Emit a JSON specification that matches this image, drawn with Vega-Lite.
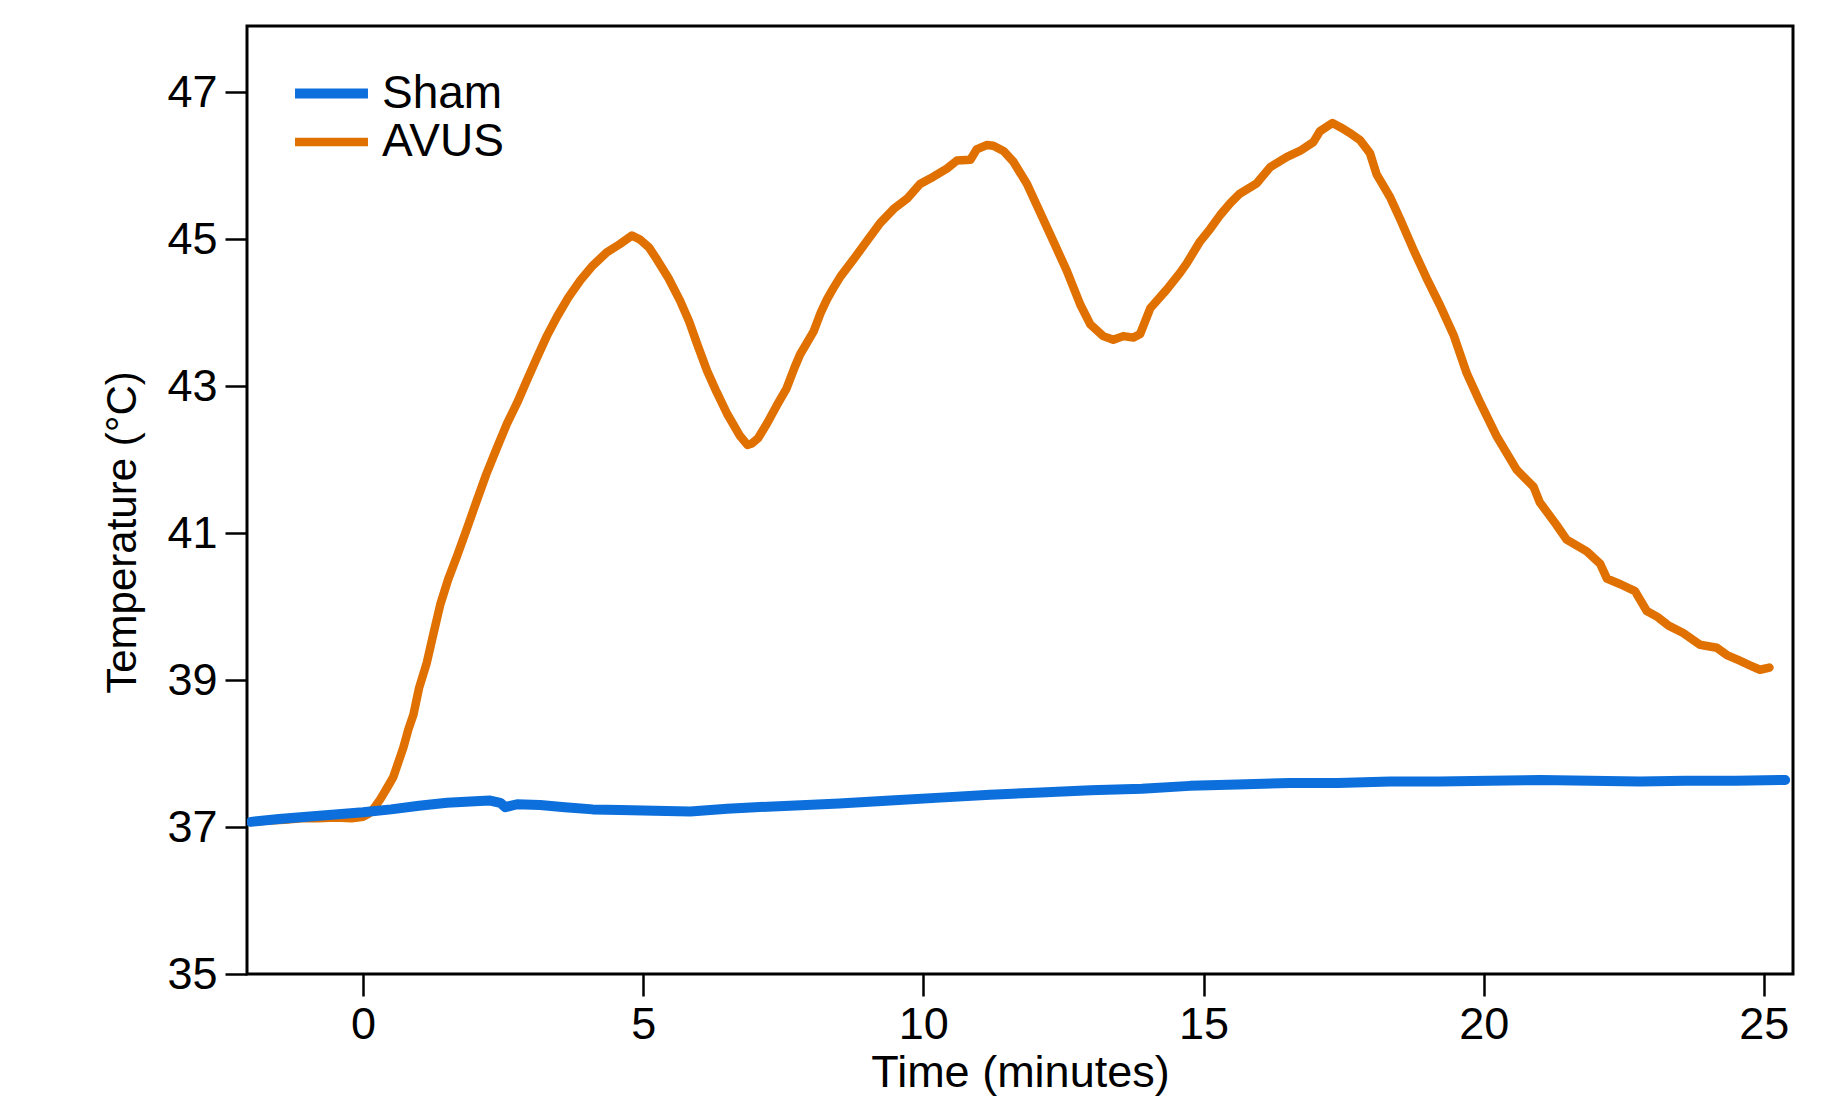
{
  "$schema": "https://vega.github.io/schema/vega-lite/v6.json",
  "width": 1546,
  "height": 948,
  "autosize": {"type": "none"},
  "padding": {"left": 247, "top": 26, "right": 42, "bottom": 126},
  "background": "white",
  "config": {
    "view": {"stroke": "black", "strokeWidth": 3},
    "font": "Liberation Sans",
    "axis": {
      "domain": false,
      "grid": false,
      "tickColor": "black",
      "tickWidth": 2.5,
      "tickSize": 22,
      "labelFont": "Liberation Sans",
      "labelFontSize": 45,
      "labelColor": "black",
      "titleFont": "Liberation Sans",
      "titleFontWeight": "normal",
      "titleColor": "black"
    }
  },
  "datasets": {
    "temps": [
      {"t": -2.0, "T": 37.07, "series": "AVUS"},
      {"t": -1.7, "T": 37.09, "series": "AVUS"},
      {"t": -1.4, "T": 37.1, "series": "AVUS"},
      {"t": -1.1, "T": 37.12, "series": "AVUS"},
      {"t": -0.8, "T": 37.12, "series": "AVUS"},
      {"t": -0.5, "T": 37.13, "series": "AVUS"},
      {"t": -0.2, "T": 37.12, "series": "AVUS"},
      {"t": 0.0, "T": 37.14, "series": "AVUS"},
      {"t": 0.1, "T": 37.18, "series": "AVUS"},
      {"t": 0.2, "T": 37.26, "series": "AVUS"},
      {"t": 0.31, "T": 37.38, "series": "AVUS"},
      {"t": 0.42, "T": 37.52, "series": "AVUS"},
      {"t": 0.54, "T": 37.68, "series": "AVUS"},
      {"t": 0.63, "T": 37.88, "series": "AVUS"},
      {"t": 0.72, "T": 38.08, "series": "AVUS"},
      {"t": 0.81, "T": 38.33, "series": "AVUS"},
      {"t": 0.9, "T": 38.53, "series": "AVUS"},
      {"t": 1.0, "T": 38.89, "series": "AVUS"},
      {"t": 1.14, "T": 39.24, "series": "AVUS"},
      {"t": 1.26, "T": 39.64, "series": "AVUS"},
      {"t": 1.38, "T": 40.03, "series": "AVUS"},
      {"t": 1.52, "T": 40.37, "series": "AVUS"},
      {"t": 1.68, "T": 40.69, "series": "AVUS"},
      {"t": 1.85, "T": 41.05, "series": "AVUS"},
      {"t": 2.03, "T": 41.44, "series": "AVUS"},
      {"t": 2.2, "T": 41.8, "series": "AVUS"},
      {"t": 2.39, "T": 42.16, "series": "AVUS"},
      {"t": 2.57, "T": 42.49, "series": "AVUS"},
      {"t": 2.75, "T": 42.77, "series": "AVUS"},
      {"t": 2.92, "T": 43.07, "series": "AVUS"},
      {"t": 3.1, "T": 43.38, "series": "AVUS"},
      {"t": 3.28, "T": 43.68, "series": "AVUS"},
      {"t": 3.46, "T": 43.94, "series": "AVUS"},
      {"t": 3.66, "T": 44.2, "series": "AVUS"},
      {"t": 3.88, "T": 44.44, "series": "AVUS"},
      {"t": 4.1, "T": 44.64, "series": "AVUS"},
      {"t": 4.35, "T": 44.82, "series": "AVUS"},
      {"t": 4.58, "T": 44.93, "series": "AVUS"},
      {"t": 4.8, "T": 45.05, "series": "AVUS"},
      {"t": 4.95, "T": 44.99, "series": "AVUS"},
      {"t": 5.1, "T": 44.89, "series": "AVUS"},
      {"t": 5.24, "T": 44.73, "series": "AVUS"},
      {"t": 5.45, "T": 44.47, "series": "AVUS"},
      {"t": 5.66, "T": 44.16, "series": "AVUS"},
      {"t": 5.82, "T": 43.88, "series": "AVUS"},
      {"t": 5.96, "T": 43.58, "series": "AVUS"},
      {"t": 6.14, "T": 43.21, "series": "AVUS"},
      {"t": 6.31, "T": 42.92, "series": "AVUS"},
      {"t": 6.5, "T": 42.62, "series": "AVUS"},
      {"t": 6.73, "T": 42.32, "series": "AVUS"},
      {"t": 6.86, "T": 42.2, "series": "AVUS"},
      {"t": 6.94, "T": 42.22, "series": "AVUS"},
      {"t": 7.05, "T": 42.29, "series": "AVUS"},
      {"t": 7.21, "T": 42.49, "series": "AVUS"},
      {"t": 7.38, "T": 42.73, "series": "AVUS"},
      {"t": 7.56, "T": 42.97, "series": "AVUS"},
      {"t": 7.7, "T": 43.25, "series": "AVUS"},
      {"t": 7.8, "T": 43.43, "series": "AVUS"},
      {"t": 8.04, "T": 43.74, "series": "AVUS"},
      {"t": 8.17, "T": 44.0, "series": "AVUS"},
      {"t": 8.28, "T": 44.18, "series": "AVUS"},
      {"t": 8.4, "T": 44.34, "series": "AVUS"},
      {"t": 8.52, "T": 44.49, "series": "AVUS"},
      {"t": 8.75, "T": 44.72, "series": "AVUS"},
      {"t": 8.99, "T": 44.97, "series": "AVUS"},
      {"t": 9.23, "T": 45.22, "series": "AVUS"},
      {"t": 9.47, "T": 45.41, "series": "AVUS"},
      {"t": 9.71, "T": 45.55, "series": "AVUS"},
      {"t": 9.94, "T": 45.75, "series": "AVUS"},
      {"t": 10.18, "T": 45.85, "series": "AVUS"},
      {"t": 10.42, "T": 45.96, "series": "AVUS"},
      {"t": 10.6, "T": 46.07, "series": "AVUS"},
      {"t": 10.84, "T": 46.08, "series": "AVUS"},
      {"t": 10.95, "T": 46.22, "series": "AVUS"},
      {"t": 11.13, "T": 46.28, "series": "AVUS"},
      {"t": 11.25, "T": 46.27, "series": "AVUS"},
      {"t": 11.43, "T": 46.2, "series": "AVUS"},
      {"t": 11.61, "T": 46.05, "series": "AVUS"},
      {"t": 11.85, "T": 45.75, "series": "AVUS"},
      {"t": 12.08, "T": 45.37, "series": "AVUS"},
      {"t": 12.32, "T": 44.97, "series": "AVUS"},
      {"t": 12.56, "T": 44.57, "series": "AVUS"},
      {"t": 12.8, "T": 44.11, "series": "AVUS"},
      {"t": 12.98, "T": 43.84, "series": "AVUS"},
      {"t": 13.21, "T": 43.68, "series": "AVUS"},
      {"t": 13.39, "T": 43.63, "series": "AVUS"},
      {"t": 13.57, "T": 43.68, "series": "AVUS"},
      {"t": 13.75, "T": 43.66, "series": "AVUS"},
      {"t": 13.87, "T": 43.71, "series": "AVUS"},
      {"t": 14.05, "T": 44.06, "series": "AVUS"},
      {"t": 14.35, "T": 44.32, "series": "AVUS"},
      {"t": 14.58, "T": 44.54, "series": "AVUS"},
      {"t": 14.7, "T": 44.67, "series": "AVUS"},
      {"t": 14.94, "T": 44.97, "series": "AVUS"},
      {"t": 15.12, "T": 45.14, "series": "AVUS"},
      {"t": 15.3, "T": 45.33, "series": "AVUS"},
      {"t": 15.48, "T": 45.49, "series": "AVUS"},
      {"t": 15.65, "T": 45.62, "series": "AVUS"},
      {"t": 15.95, "T": 45.76, "series": "AVUS"},
      {"t": 16.19, "T": 45.98, "series": "AVUS"},
      {"t": 16.49, "T": 46.12, "series": "AVUS"},
      {"t": 16.72, "T": 46.2, "series": "AVUS"},
      {"t": 16.96, "T": 46.32, "series": "AVUS"},
      {"t": 17.08, "T": 46.47, "series": "AVUS"},
      {"t": 17.3, "T": 46.58, "series": "AVUS"},
      {"t": 17.45, "T": 46.52, "series": "AVUS"},
      {"t": 17.6, "T": 46.45, "series": "AVUS"},
      {"t": 17.79, "T": 46.35, "series": "AVUS"},
      {"t": 17.97, "T": 46.17, "series": "AVUS"},
      {"t": 18.09, "T": 45.88, "series": "AVUS"},
      {"t": 18.33, "T": 45.57, "series": "AVUS"},
      {"t": 18.51, "T": 45.27, "series": "AVUS"},
      {"t": 18.75, "T": 44.85, "series": "AVUS"},
      {"t": 18.98, "T": 44.47, "series": "AVUS"},
      {"t": 19.22, "T": 44.1, "series": "AVUS"},
      {"t": 19.46, "T": 43.7, "series": "AVUS"},
      {"t": 19.7, "T": 43.17, "series": "AVUS"},
      {"t": 19.94, "T": 42.77, "series": "AVUS"},
      {"t": 20.23, "T": 42.32, "series": "AVUS"},
      {"t": 20.59, "T": 41.86, "series": "AVUS"},
      {"t": 20.89, "T": 41.63, "series": "AVUS"},
      {"t": 21.0, "T": 41.42, "series": "AVUS"},
      {"t": 21.3, "T": 41.11, "series": "AVUS"},
      {"t": 21.48, "T": 40.91, "series": "AVUS"},
      {"t": 21.84, "T": 40.75, "series": "AVUS"},
      {"t": 22.08, "T": 40.58, "series": "AVUS"},
      {"t": 22.2, "T": 40.38, "series": "AVUS"},
      {"t": 22.45, "T": 40.3, "series": "AVUS"},
      {"t": 22.7, "T": 40.21, "series": "AVUS"},
      {"t": 22.91, "T": 39.94, "series": "AVUS"},
      {"t": 23.1, "T": 39.86, "series": "AVUS"},
      {"t": 23.3, "T": 39.74, "series": "AVUS"},
      {"t": 23.56, "T": 39.64, "series": "AVUS"},
      {"t": 23.86, "T": 39.48, "series": "AVUS"},
      {"t": 24.16, "T": 39.44, "series": "AVUS"},
      {"t": 24.34, "T": 39.34, "series": "AVUS"},
      {"t": 24.55, "T": 39.27, "series": "AVUS"},
      {"t": 24.75, "T": 39.2, "series": "AVUS"},
      {"t": 24.93, "T": 39.14, "series": "AVUS"},
      {"t": 25.1, "T": 39.17, "series": "AVUS"},
      {"t": -2.0, "T": 37.07, "series": "Sham"},
      {"t": -1.5, "T": 37.11, "series": "Sham"},
      {"t": -1.0, "T": 37.14, "series": "Sham"},
      {"t": -0.5, "T": 37.17, "series": "Sham"},
      {"t": 0.0, "T": 37.2, "series": "Sham"},
      {"t": 0.5, "T": 37.24, "series": "Sham"},
      {"t": 1.0, "T": 37.29, "series": "Sham"},
      {"t": 1.5, "T": 37.33, "series": "Sham"},
      {"t": 2.0, "T": 37.35, "series": "Sham"},
      {"t": 2.27, "T": 37.36, "series": "Sham"},
      {"t": 2.45, "T": 37.33, "series": "Sham"},
      {"t": 2.54, "T": 37.27, "series": "Sham"},
      {"t": 2.75, "T": 37.31, "series": "Sham"},
      {"t": 3.16, "T": 37.3, "series": "Sham"},
      {"t": 3.6, "T": 37.27, "series": "Sham"},
      {"t": 4.1, "T": 37.24, "series": "Sham"},
      {"t": 4.59, "T": 37.23, "series": "Sham"},
      {"t": 5.2, "T": 37.22, "series": "Sham"},
      {"t": 5.84, "T": 37.21, "series": "Sham"},
      {"t": 6.5, "T": 37.25, "series": "Sham"},
      {"t": 7.0, "T": 37.27, "series": "Sham"},
      {"t": 7.62, "T": 37.29, "series": "Sham"},
      {"t": 8.5, "T": 37.32, "series": "Sham"},
      {"t": 9.41, "T": 37.36, "series": "Sham"},
      {"t": 10.3, "T": 37.4, "series": "Sham"},
      {"t": 11.19, "T": 37.44, "series": "Sham"},
      {"t": 12.1, "T": 37.47, "series": "Sham"},
      {"t": 12.98, "T": 37.5, "series": "Sham"},
      {"t": 13.9, "T": 37.52, "series": "Sham"},
      {"t": 14.76, "T": 37.56, "series": "Sham"},
      {"t": 15.6, "T": 37.58, "series": "Sham"},
      {"t": 16.54, "T": 37.6, "series": "Sham"},
      {"t": 17.4, "T": 37.6, "series": "Sham"},
      {"t": 18.33, "T": 37.62, "series": "Sham"},
      {"t": 19.2, "T": 37.62, "series": "Sham"},
      {"t": 20.1, "T": 37.63, "series": "Sham"},
      {"t": 21.01, "T": 37.64, "series": "Sham"},
      {"t": 21.9, "T": 37.63, "series": "Sham"},
      {"t": 22.79, "T": 37.62, "series": "Sham"},
      {"t": 23.6, "T": 37.63, "series": "Sham"},
      {"t": 24.5, "T": 37.63, "series": "Sham"},
      {"t": 25.38, "T": 37.64, "series": "Sham"}
    ]
  },
  "data": {"name": "temps"},
  "mark": {"type": "line", "strokeJoin": "round", "strokeCap": "round", "clip": true},
  "encoding": {
    "x": {
      "field": "t",
      "type": "quantitative",
      "scale": {"domain": [-2.07, 25.52], "nice": false, "zero": false},
      "axis": {
        "values": [0, 5, 10, 15, 20, 25],
        "title": "Time (minutes)",
        "titleFontSize": 45,
        "labelPadding": 6,
        "titleY": 112,
        "titleBaseline": "alphabetic"
      }
    },
    "y": {
      "field": "T",
      "type": "quantitative",
      "scale": {"domain": [35, 47.9], "nice": false, "zero": false},
      "axis": {
        "values": [35, 37, 39, 41, 43, 45, 47],
        "title": "Temperature (°C)",
        "titleFontSize": 42,
        "labelPadding": 8,
        "titleX": -112,
        "titleY": 506,
        "titleAngle": -90,
        "titleAlign": "center",
        "titleBaseline": "alphabetic"
      }
    },
    "strokeWidth": {
      "field": "series",
      "type": "nominal",
      "scale": {"domain": ["Sham", "AVUS"], "range": [10, 8.5]},
      "legend": null
    },
    "color": {
      "field": "series",
      "type": "nominal",
      "scale": {"domain": ["Sham", "AVUS"], "range": ["#0c6fdc", "#e07000"]},
      "legend": {
        "title": null,
        "orient": "none",
        "legendX": 61,
        "legendY": 44,
        "padding": 0,
        "symbolType": "M-2,0H2",
        "symbolSize": 1330,
        "symbolStrokeWidth": 8,
        "labelFont": "Liberation Sans",
        "labelFontSize": 46,
        "labelColor": "black",
        "labelOffset": 27,
        "rowPadding": 2
      }
    }
  }
}
